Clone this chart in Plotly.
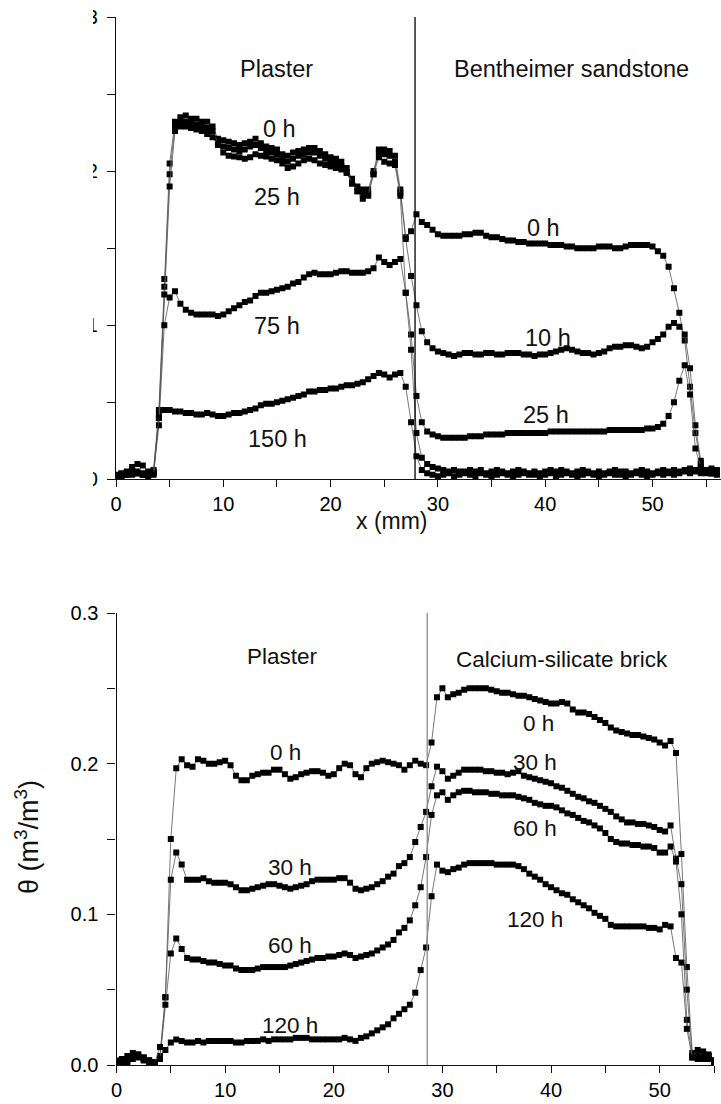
import numpy as np
import plotly.graph_objects as go

# ---------------- data ----------------
# top panel: plaster / Bentheimer sandstone, sampled every 0.5 mm from 0 to 56 mm
x_top = [round(0.5 * i, 1) for i in range(113)]
top_0h = [0.002,0.003,0.004,0.006,0.005,0.004,0.004,0.006,0.045,0.130,0.205,0.232,0.235,0.236,0.234,0.234,0.232,0.232,0.229,0.221,
          0.220,0.219,0.218,0.217,0.218,0.219,0.221,0.218,0.216,0.215,0.214,0.211,0.210,0.212,0.213,0.214,0.215,0.215,0.213,0.211,
          0.209,0.208,0.206,0.202,0.195,0.190,0.188,0.188,0.200,0.214,0.214,0.213,0.210,0.188,0.157,0.161,0.172,0.167,0.165,0.162,
          0.159,0.158,0.158,0.158,0.158,0.159,0.159,0.160,0.160,0.158,0.157,0.157,0.156,0.155,0.155,0.154,0.154,0.153,0.153,0.153,
          0.153,0.152,0.152,0.152,0.151,0.151,0.150,0.150,0.150,0.150,0.151,0.151,0.151,0.150,0.150,0.151,0.152,0.152,0.152,0.152,
          0.151,0.148,0.145,0.138,0.124,0.108,0.090,0.060,0.030,0.010,0.004,0.004,0.003]
top_10h = [0.003,0.004,0.003,0.005,0.004,0.003,0.004,0.005,0.042,0.125,0.198,0.229,0.232,0.232,0.231,0.230,0.229,0.228,0.226,0.218,
           0.216,0.215,0.214,0.213,0.214,0.216,0.217,0.215,0.213,0.212,0.211,0.208,0.206,0.208,0.210,0.211,0.212,0.212,0.210,0.208,
           0.206,0.205,0.203,0.199,0.192,0.187,0.185,0.185,0.198,0.212,0.211,0.210,0.206,0.186,0.156,0.132,0.113,0.096,0.089,0.085,
           0.083,0.082,0.081,0.080,0.081,0.082,0.082,0.081,0.081,0.082,0.082,0.081,0.081,0.082,0.082,0.082,0.081,0.081,0.080,0.081,
           0.081,0.082,0.083,0.084,0.085,0.084,0.083,0.082,0.082,0.081,0.082,0.083,0.085,0.086,0.086,0.087,0.087,0.086,0.085,0.086,
           0.089,0.091,0.094,0.099,0.1015,0.099,0.094,0.072,0.035,0.012,0.005,0.004,0.004]
top_25h = [0.002,0.003,0.005,0.008,0.010,0.009,0.005,0.004,0.040,0.120,0.190,0.226,0.229,0.229,0.228,0.227,0.226,0.224,0.222,0.217,
           0.212,0.210,0.2095,0.209,0.208,0.209,0.211,0.210,0.2095,0.208,0.207,0.205,0.202,0.203,0.205,0.207,0.208,0.207,0.205,0.204,
           0.203,0.202,0.201,0.199,0.192,0.187,0.182,0.184,0.198,0.209,0.206,0.205,0.204,0.184,0.121,0.094,0.054,0.037,0.031,0.029,
           0.028,0.027,0.027,0.027,0.027,0.027,0.028,0.028,0.028,0.029,0.029,0.029,0.029,0.030,0.030,0.030,0.030,0.030,0.030,0.030,
           0.030,0.031,0.031,0.031,0.031,0.031,0.031,0.031,0.031,0.031,0.031,0.031,0.032,0.032,0.032,0.032,0.032,0.032,0.032,0.033,
           0.033,0.034,0.036,0.041,0.050,0.064,0.074,0.055,0.020,0.008,0.005,0.004,0.004]
top_75h = [0.001,0.002,0.003,0.004,0.004,0.003,0.003,0.004,0.035,0.100,0.118,0.122,0.114,0.110,0.108,0.107,0.107,0.107,0.107,0.106,
           0.107,0.109,0.111,0.113,0.115,0.116,0.119,0.121,0.121,0.122,0.123,0.124,0.125,0.127,0.128,0.131,0.133,0.134,0.133,0.133,
           0.133,0.134,0.135,0.135,0.134,0.134,0.134,0.135,0.137,0.144,0.141,0.139,0.141,0.143,0.121,0.084,0.030,0.014,0.010,0.008,
           0.007,0.006,0.005,0.006,0.005,0.005,0.006,0.005,0.006,0.004,0.005,0.006,0.005,0.004,0.005,0.006,0.005,0.004,0.005,0.004,
           0.005,0.006,0.005,0.006,0.005,0.004,0.005,0.006,0.005,0.004,0.005,0.004,0.005,0.006,0.005,0.005,0.004,0.005,0.006,0.005,
           0.004,0.005,0.006,0.005,0.006,0.005,0.006,0.007,0.006,0.007,0.006,0.007,0.006]
top_150h = [0.001,0.002,0.003,0.003,0.004,0.003,0.002,0.003,0.040,0.045,0.045,0.044,0.044,0.043,0.043,0.042,0.042,0.043,0.042,0.041,
            0.041,0.042,0.043,0.043,0.044,0.045,0.046,0.048,0.049,0.049,0.050,0.051,0.052,0.053,0.054,0.055,0.057,0.057,0.058,0.058,
            0.059,0.059,0.060,0.061,0.061,0.062,0.063,0.065,0.067,0.069,0.068,0.066,0.068,0.069,0.060,0.037,0.015,0.006,0.004,0.003,
            0.002,0.003,0.004,0.002,0.003,0.004,0.003,0.002,0.004,0.003,0.002,0.003,0.004,0.003,0.002,0.003,0.004,0.003,0.003,0.002,
            0.003,0.004,0.002,0.003,0.004,0.003,0.002,0.003,0.004,0.003,0.002,0.003,0.004,0.003,0.003,0.002,0.003,0.004,0.003,0.002,
            0.003,0.004,0.003,0.004,0.003,0.004,0.005,0.004,0.005,0.004,0.005,0.004,0.005]

# bottom panel: plaster / calcium-silicate brick, sampled every 0.5 mm from 0 to 55 mm
x_bot = [round(0.5 * i, 1) for i in range(111)]
bot_0h = [0.001,0.002,0.004,0.006,0.007,0.005,0.003,0.002,0.006,0.045,0.150,0.197,0.203,0.199,0.198,0.203,0.202,0.200,0.200,0.201,
          0.202,0.199,0.192,0.189,0.189,0.192,0.193,0.194,0.194,0.196,0.196,0.193,0.190,0.191,0.193,0.194,0.195,0.195,0.194,0.192,
          0.193,0.197,0.200,0.199,0.193,0.191,0.197,0.200,0.201,0.202,0.201,0.200,0.199,0.196,0.199,0.202,0.200,0.199,0.214,0.244,
          0.250,0.244,0.246,0.247,0.249,0.250,0.250,0.250,0.250,0.249,0.248,0.247,0.247,0.246,0.245,0.245,0.244,0.243,0.242,0.241,
          0.240,0.240,0.241,0.240,0.236,0.234,0.234,0.233,0.231,0.229,0.227,0.224,0.222,0.221,0.220,0.219,0.219,0.218,0.217,0.216,
          0.214,0.212,0.215,0.207,0.140,0.065,0.008,0.004,0.008,0.004,0.002]
bot_30h = [0.002,0.001,0.003,0.005,0.006,0.004,0.003,0.001,0.005,0.045,0.123,0.141,0.133,0.123,0.123,0.123,0.124,0.122,0.121,0.121,
           0.121,0.120,0.118,0.116,0.116,0.117,0.118,0.119,0.120,0.120,0.119,0.118,0.117,0.118,0.119,0.120,0.122,0.123,0.123,0.123,
           0.123,0.124,0.124,0.121,0.117,0.116,0.117,0.118,0.120,0.122,0.125,0.127,0.132,0.134,0.138,0.148,0.158,0.168,0.185,0.198,
           0.195,0.190,0.192,0.194,0.196,0.196,0.196,0.196,0.195,0.195,0.194,0.194,0.193,0.194,0.195,0.192,0.191,0.190,0.189,0.188,
           0.187,0.185,0.184,0.182,0.180,0.178,0.177,0.175,0.174,0.172,0.170,0.168,0.165,0.163,0.161,0.161,0.160,0.160,0.159,0.158,
           0.156,0.155,0.159,0.137,0.120,0.050,0.006,0.005,0.009,0.006,0.003]
bot_60h = [0.001,0.002,0.002,0.004,0.005,0.003,0.002,0.002,0.004,0.040,0.074,0.084,0.077,0.071,0.070,0.070,0.069,0.068,0.068,0.067,
           0.066,0.066,0.064,0.063,0.063,0.063,0.064,0.065,0.065,0.065,0.065,0.065,0.066,0.067,0.068,0.069,0.070,0.071,0.071,0.072,
           0.072,0.073,0.074,0.073,0.071,0.072,0.073,0.074,0.076,0.078,0.080,0.083,0.088,0.091,0.096,0.106,0.118,0.138,0.166,0.179,
           0.181,0.176,0.179,0.181,0.182,0.182,0.181,0.181,0.181,0.180,0.180,0.179,0.179,0.179,0.178,0.177,0.176,0.174,0.173,0.172,
           0.172,0.171,0.169,0.167,0.166,0.164,0.162,0.161,0.159,0.157,0.154,0.150,0.148,0.147,0.147,0.146,0.146,0.145,0.145,0.144,
           0.141,0.141,0.145,0.135,0.100,0.030,0.005,0.007,0.004,0.006,0.003]
bot_120h = [0.003,0.004,0.006,0.008,0.007,0.005,0.003,0.001,0.012,0.010,0.015,0.017,0.016,0.015,0.015,0.016,0.015,0.016,0.016,0.016,
            0.016,0.016,0.015,0.015,0.016,0.016,0.016,0.017,0.016,0.017,0.017,0.017,0.017,0.018,0.018,0.018,0.017,0.017,0.017,0.017,
            0.017,0.017,0.018,0.017,0.016,0.018,0.019,0.021,0.023,0.025,0.027,0.031,0.034,0.037,0.040,0.048,0.063,0.078,0.112,0.133,
            0.129,0.128,0.130,0.131,0.133,0.134,0.134,0.134,0.134,0.134,0.133,0.133,0.133,0.133,0.132,0.130,0.127,0.125,0.123,0.120,
            0.118,0.116,0.114,0.113,0.110,0.108,0.106,0.104,0.101,0.099,0.097,0.093,0.092,0.092,0.092,0.092,0.092,0.092,0.091,0.091,
            0.090,0.093,0.092,0.071,0.068,0.024,0.005,0.010,0.005,0.007,0.003]

top_series = [top_0h, top_10h, top_25h, top_75h, top_150h]
bot_series = [bot_0h, bot_30h, bot_60h, bot_120h]
for s in top_series:
    assert len(s) == len(x_top), len(s)
for s in bot_series:
    assert len(s) == len(x_bot), len(s)

# labels: (text, x, y)
top_labels = [("Plaster", 14.96, 0.266), ("Bentheimer sandstone", 42.45, 0.266),
              ("0 h", 15.2, 0.2275), ("25 h", 14.96, 0.183), ("75 h", 14.96, 0.0992), ("150 h", 15.05, 0.0262),
              ("0 h", 39.8, 0.163), ("10 h", 40.3, 0.0918), ("25 h", 40.1, 0.0418)]
bot_labels = [("Plaster", 15.24, 0.2709), ("Calcium-silicate brick", 40.98, 0.2689),
              ("0 h", 15.6, 0.2072), ("30 h", 15.93, 0.131), ("60 h", 15.93, 0.0792), ("120 h", 15.98, 0.0262),
              ("0 h", 38.8, 0.2265), ("30 h", 38.5, 0.2006), ("60 h", 38.5, 0.1568), ("120 h", 38.5, 0.0965)]
top_interface = 27.87
bot_interface = 28.6

# ---------------- figure ----------------
W, H = 721, 1104
FONT = "Liberation Sans, Arial, sans-serif"

fig = go.Figure()
mk = dict(symbol="square", size=6, color="black")
ln = dict(color="#555555", width=0.8)
for s in top_series:
    fig.add_trace(go.Scatter(x=x_top, y=s, mode="lines+markers", marker=mk, line=ln,
                             xaxis="x", yaxis="y", showlegend=False, cliponaxis=True))
for s in bot_series:
    fig.add_trace(go.Scatter(x=x_bot, y=s, mode="lines+markers", marker=mk, line=ln,
                             xaxis="x2", yaxis="y2", showlegend=False, cliponaxis=True))

top_dom_y = [1 - 479.3 / H, 1 - 17 / H]
bot_dom_y = [1 - 1065 / H, 1 - 613 / H]
top_dom_x = [116 / W, 1.0]
bot_dom_x = [116.5 / W, 714 / W]
top_xr = [0, (W - 116) / 10.73]
bot_xr = [0, 55]

axcol = "#111111"
tickfont = dict(family=FONT, size=20, color="black")

def xaxis_main(dom, rng, anchor):
    return dict(domain=dom, range=rng, anchor=anchor, showline=True, linecolor=axcol, linewidth=1.3,
                ticks="outside", ticklen=7, tickwidth=1.2, tickcolor=axcol, dtick=10, tick0=0,
                minor=dict(dtick=5, ticks="outside", ticklen=7, tickwidth=1.2, tickcolor=axcol, showgrid=False),
                showgrid=False, zeroline=False, tickfont=tickfont, automargin=False)

def xaxis_top(rng, over, anchor):
    return dict(range=rng, overlaying=over, anchor=anchor, side="top", showline=True, linecolor=axcol,
                linewidth=1.3, ticks="inside", ticklen=7, tickwidth=1.2, tickcolor=axcol, dtick=5, tick0=0,
                showticklabels=False, showgrid=False, zeroline=False, automargin=False)

def yaxis_main(dom, anchor):
    return dict(domain=dom, range=[0, 0.3], anchor=anchor, showline=True, linecolor=axcol, linewidth=1.3,
                ticks="outside", ticklen=8, tickwidth=1.2, tickcolor=axcol, dtick=0.1, tick0=0, tickformat=".1f",
                minor=dict(dtick=0.05, ticks="outside", ticklen=8, tickwidth=1.2, tickcolor=axcol, showgrid=False),
                showgrid=False, zeroline=False, tickfont=tickfont, ticklabelstandoff=5, automargin=False)

fig.update_layout(
    width=W, height=H, margin=dict(l=0, r=0, t=0, b=0, pad=0, autoexpand=False),
    paper_bgcolor="white", plot_bgcolor="white",
    font=dict(family=FONT, color="black"),
    xaxis=xaxis_main(top_dom_x, top_xr, "y"),
    yaxis=yaxis_main(top_dom_y, "x"),
    xaxis3=xaxis_top(top_xr, "x", "y"),
    xaxis2=xaxis_main(bot_dom_x, bot_xr, "y2"),
    yaxis2=yaxis_main(bot_dom_y, "x2"),
    xaxis4=xaxis_top(bot_xr, "x2", "y2"),
    yaxis4=dict(range=[0, 0.3], overlaying="y2", anchor="x2", side="right", showline=True, linecolor=axcol,
                linewidth=1.3, ticks="inside", ticklen=7, tickwidth=1.2, tickcolor=axcol, dtick=0.05, tick0=0,
                showticklabels=False, showgrid=False, zeroline=False, automargin=False),
)

# interface lines
fig.add_shape(type="line", xref="x", yref="y", x0=top_interface, x1=top_interface, y0=0, y1=0.3,
              line=dict(color="black", width=1.3), layer="above")
fig.add_shape(type="line", xref="x2", yref="y2", x0=bot_interface, x1=bot_interface, y0=0, y1=0.3,
              line=dict(color="#8a8a8a", width=1.3), layer="above")

for t, x, y in top_labels:
    fig.add_annotation(text=t, x=x, y=y, xref="x", yref="y", showarrow=False, xanchor="center", yanchor="middle",
                       font=dict(family=FONT, size=23.5, color="#111111"))
for t, x, y in bot_labels:
    fig.add_annotation(text=t, x=x, y=y, xref="x2", yref="y2", showarrow=False, xanchor="center", yanchor="middle",
                       font=dict(family=FONT, size=22.5, color="#111111"))

# axis titles
fig.add_annotation(text="x (mm)", x=(392 - 116) / 10.73, y=1 - 521 / H, xref="x", yref="paper",
                   xanchor="center", yanchor="middle",
                   showarrow=False, font=dict(family=FONT, size=23, color="#111111"))
fig.add_annotation(text="θ (m<sup>3</sup>/m<sup>3</sup>)", x=27 / W, y=1 - 837 / H, xref="paper", yref="paper",
                   xanchor="center", yanchor="middle",
                   showarrow=False, textangle=-90, font=dict(family=FONT, size=27, color="#111111"))

# the top panel's left margin is cropped in the reference
fig.add_shape(type="rect", xref="paper", yref="paper", x0=0, x1=93 / W, y0=1 - 492 / H, y1=1.0,
              fillcolor="white", line=dict(width=0), layer="above")

fig.write_html("out.html", config={"displayModeBar": False},
               post_script="document.body.style.margin='0px';")
